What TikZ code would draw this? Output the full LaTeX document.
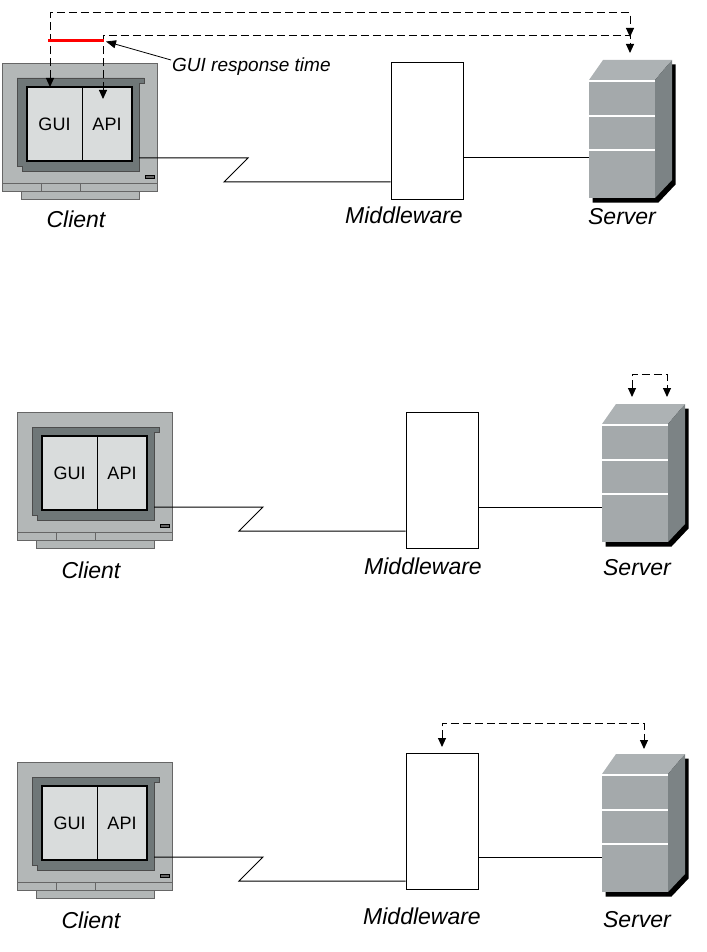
\documentclass[tikz,border=0pt]{standalone}
\usepackage{fontspec}
\setmainfont{Liberation Sans}
\usetikzlibrary{arrows.meta, positioning}

\definecolor{casegray}{HTML}{B3B7B7}
\definecolor{bezelgray}{HTML}{6F7778}
\definecolor{screengray}{HTML}{D9DCDC}
\definecolor{srvfront}{HTML}{A4A9AB}
\definecolor{srvtop}{HTML}{ADB2B4}
\definecolor{srvside}{HTML}{7C8385}

\tikzset{
    casepart/.style={fill=casegray, draw=black!60, line width=0.8pt},
    bezel/.style={fill=bezelgray, draw=black!70, line width=0.6pt},
    pane/.style={draw, fill=screengray, line width=0.8pt, minimum height=74pt, inner sep=0pt, font=\fontsize{18}{20}\selectfont},
    mwbox/.style={draw, fill=white, line width=1pt, minimum width=72pt, minimum height=136pt, inner sep=0pt},
    srvbox/.style={fill=srvfront, minimum width=66pt, minimum height=118pt, inner sep=0pt},
    devname/.style={font=\fontsize{23}{26}\selectfont\itshape},
    notetext/.style={font=\fontsize{19}{22}\selectfont\itshape, inner sep=1pt},
    cable/.style={line width=1pt},
    flow/.style={dash pattern=on 8pt off 4pt, line width=1pt, {Triangle[width=8pt,length=9pt]}-{Triangle[width=8pt,length=9pt]}},
    pointer/.style={line width=0.8pt, -{Triangle[width=8pt,length=10pt]}},
    resp/.style={red, line width=3pt},
    pics/client/.style={code={
        \draw[casepart] (0,0) rectangle (155,120);
        \draw[casepart] (0,120) rectangle (155,128);
        \draw[draw=black!60, line width=0.8pt] (39,120) -- (39,128) (78,120) -- (78,128);
        \draw[casepart] (19,128) rectangle (137,136);
        \draw[bezel] (15,15) -- (142,15) -- (142,20) -- (137,20) -- (137,108) -- (20,108) -- (20,103) -- (15,103) -- cycle;
        \node[pane, minimum width=55pt] (-gui) at (52.5,61) {GUI};
        \node[pane, minimum width=50pt] (-api) at (105,61) {API};
        \draw[line width=2.5pt] (25,24) rectangle (130,98);
        \draw[fill=black!60, line width=0.6pt] (143,112) rectangle (152,115);
        \coordinate (-port) at (137,95);
        \coordinate (-bendA) at (246,95);
        \coordinate (-bendB) at (222,119);
    }},
    pics/server/.style={code={
        \fill[black] (3.5,4.5) -- (17.5,-15.5) -- (86.5,-15.5) -- (86.5,104.5) -- (69.5,122.5) -- (3.5,122.5) -- cycle;
        \fill[srvtop] (0,0) -- (14,-20) -- (83,-20) -- (66,0) -- cycle;
        \fill[srvside] (66,0) -- (83,-20) -- (83,100) -- (66,118) -- cycle;
        \node[srvbox] (-front) at (33,59) {};
        \foreach \y in {1,36,70}
            \draw[white, line width=1.5pt] (0,\y) -- (66,\y);
    }}
}

\begin{document}
\begin{tikzpicture}[x=1pt, y=-1pt]
    \useasboundingbox (0,0) rectangle (706,952);

    % first row: GUI response time
    \pic (cl1) at (2,63) {client};
    \node[mwbox] (mw1) at (427,131) {};
    \pic (srv1) at (589,80) {server};
    \node[devname] (cl1-name) at (76,219) {Client};
    \node[devname] (mw1-name) at (404,215) {Middleware};
    \node[devname] (srv1-name) at (622,217) {Server};

    \draw[cable] (cl1-port) -- (cl1-bendA) -- (cl1-bendB) -- (cl1-bendB -| mw1.west);
    \draw[cable] (mw1.east |- cl1-port) -- (srv1-front.west |- cl1-port);

    \coordinate (gui-in) at (50,87);
    \coordinate (api-in) at (103,99);
    \coordinate (srv1-inA) at (630,37);
    \coordinate (srv1-inB) at (630,53);
    \draw[flow] (gui-in) -- ++(0,-74) -| (srv1-inA);
    \draw[flow] (api-in) -- ++(0,-63) -| (srv1-inB);

    \coordinate (rt-start) at (48,41);
    \coordinate (rt-end) at (104,41);
    \coordinate (rt-tip) at (106,41.5);
    \draw[resp] (rt-start) -- (rt-end);
    \node[notetext, anchor=west] (resp-time) at (171,67) {GUI response time};
    \draw[pointer] ([yshift=7pt]resp-time.west) -- (rt-tip);

    % second row
    \pic (cl2) at (17,412) {client};
    \node[mwbox] (mw2) at (442,480) {};
    \pic (srv2) at (602,424) {server};
    \node[devname] (cl2-name) at (91,570) {Client};
    \node[devname] (mw2-name) at (423,566) {Middleware};
    \node[devname] (srv2-name) at (637,568) {Server};

    \draw[cable] (cl2-port) -- (cl2-bendA) -- (cl2-bendB) -- (cl2-bendB -| mw2.west);
    \draw[cable] (mw2.east |- cl2-port) -- (srv2-front.west |- cl2-port);

    \coordinate (srv2-inA) at (632,397);
    \coordinate (srv2-inB) at (667,397);
    \draw[flow] (srv2-inA) -- ++(0,-23) -| (srv2-inB);

    % third row
    \pic (cl3) at (17,762) {client};
    \node[mwbox] (mw3) at (442,821) {};
    \pic (srv3) at (602,774) {server};
    \node[devname] (cl3-name) at (91,920) {Client};
    \node[devname] (mw3-name) at (422,916) {Middleware};
    \node[devname] (srv3-name) at (637,920) {Server};

    \draw[cable] (cl3-port) -- (cl3-bendA) -- (cl3-bendB) -- (cl3-bendB -| mw3.west);
    \draw[cable] (mw3.east |- cl3-port) -- (srv3-front.west |- cl3-port);

    \coordinate (mw3-in) at (442,747);
    \coordinate (srv3-in) at (644,749);
    \draw[flow] (mw3-in) -- ++(0,-24) -| (srv3-in);
\end{tikzpicture}
\end{document}
